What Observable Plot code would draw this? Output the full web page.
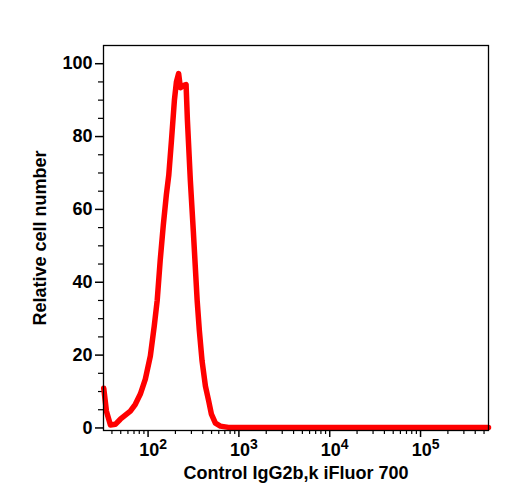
<!DOCTYPE html>
<html>
<head>
<meta charset="utf-8">
<script src="https://cdn.jsdelivr.net/npm/d3@7"></script>
<script src="https://cdn.jsdelivr.net/npm/@observablehq/plot@0.6"></script>
<style>
  html, body { margin: 0; padding: 0; background: white; }
</style>
</head>
<body>
<div id="chart"></div>
<script>
// Fluorescence intensity (x) and relative cell number (y)
const intensity = [32.5, 34.8, 38.5, 43.6, 49.5, 56.2, 63.8, 72.4, 82.2, 93.3,
  106, 117, 126, 136, 147, 159, 169, 181, 195, 205,
  217, 227, 245, 262, 271, 292, 315, 347, 367, 393,
  428, 465, 498, 551, 625, 766, 1000, 3000, 10000, 100000, 560000];
const cellCount = [10.9, 4.6, 0.8, 1.0, 2.4, 3.5, 4.6, 6.5, 9.3, 13.4,
  19.8, 28, 35, 46, 55.6, 64, 69.4, 79, 90, 95,
  97.3, 93.4, 94, 94.3, 84.6, 68, 54, 35, 26.7, 18.4,
  11.5, 7.4, 3.8, 1.3, 0.5, 0.15, 0.1, 0.1, 0.1, 0.1, 0.1];

const yMajor = [0, 20, 40, 60, 80, 100];
const yMinor = [5, 10, 15, 25, 30, 35, 45, 50, 55, 65, 70, 75, 85, 90, 95];
const xMajor = [100, 1000, 10000, 100000];
const xMinor = [];
for (let d = 1; d <= 5; d++) for (let k = 2; k <= 9; k++) {
  const v = k * Math.pow(10, d);
  if (v >= 32.3 && v <= 5.6e5) xMinor.push(v);
}
const xTitle = "Control IgG2b,k iFluor 700";
const yTitle = "Relative cell number";

const data = intensity.map((x, i) => ({x, y: cellCount[i]}));
const sup = {"2": "²", "3": "³", "4": "⁴", "5": "⁵"};

const chart = Plot.plot({
  width: 508,
  height: 500,
  marginLeft: 103,
  marginRight: 20,
  marginTop: 45,
  marginBottom: 70,
  x: {type: "log", domain: [32.3, 5.6e5]},
  y: {domain: [-0.7, 105]},
  style: {
    fontFamily: "'Liberation Sans', Arial, Helvetica, sans-serif",
    fontWeight: "bold",
    fontSize: "18px",
    background: "white",
    color: "black"
  },
  marks: [
    Plot.axisY(yMinor, {tickSize: 5, tickFormat: () => "", label: null, strokeWidth: 1.2}),
    Plot.axisY(yMajor, {tickSize: 8, tickPadding: 3, label: null, strokeWidth: 1.5, fontSize: 18}),
    Plot.axisX(xMinor, {tickSize: 4, tickFormat: () => "", label: null, strokeWidth: 1.2}),
    Plot.axisX(xMajor, {tickSize: 7, tickPadding: 6, label: null, strokeWidth: 1.5,
      tickFormat: d => "10" + sup[String(Math.round(Math.log10(d)))], fontSize: 18}),
    Plot.line(data, {x: "x", y: "y", stroke: "#ff0000", strokeWidth: 5.5, strokeLinejoin: "round", strokeLinecap: "round"}),
    Plot.frame({stroke: "black", strokeWidth: 1.3}),
    Plot.text([yTitle], {frameAnchor: "left", textAnchor: "middle", dx: -63, rotate: -90, fontSize: 18, fontWeight: "bold"}),
    Plot.text([xTitle], {frameAnchor: "bottom", textAnchor: "middle", dy: 48, fontSize: 18, fontWeight: "bold"})
  ]
});

document.getElementById("chart").appendChild(chart);

// Render the exponents as raised smaller text
try {
  const rev = {"²": "2", "³": "3", "⁴": "4", "⁵": "5"};
  chart.querySelectorAll("text").forEach(t => {
    const s = t.textContent;
    if (/^10[²³⁴⁵]$/.test(s)) {
      const e = rev[s[2]];
      t.textContent = "";
      const a = document.createElementNS("http://www.w3.org/2000/svg", "tspan");
      a.textContent = "10";
      const b = document.createElementNS("http://www.w3.org/2000/svg", "tspan");
      b.textContent = e;
      b.setAttribute("dy", "-7");
      b.setAttribute("font-size", "14");
      t.appendChild(a);
      t.appendChild(b);
      t.setAttribute("dx", "5");
    }
  });
} catch (e) {}
</script>
</body>
</html>
